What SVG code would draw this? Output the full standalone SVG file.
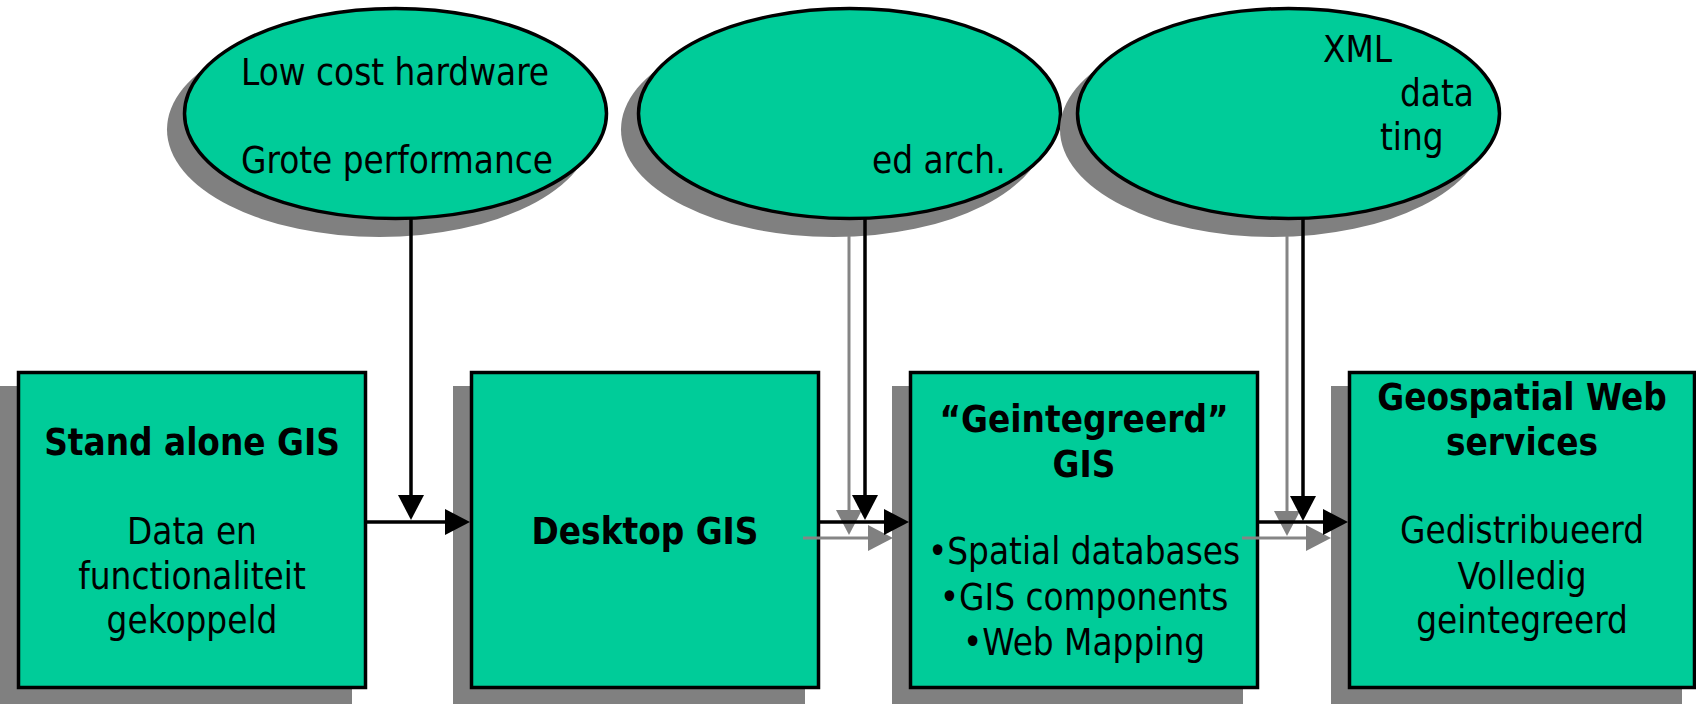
<svg xmlns="http://www.w3.org/2000/svg" width="1696" height="710" viewBox="0 0 1696 710">
<defs>
<style>
.sh{fill:#808080}
.nd{fill:#00CC99;stroke:#000;stroke-width:3.5}
.t{font-family:"DejaVu Sans Condensed","DejaVu Sans",sans-serif;font-stretch:condensed;font-size:36.5px;fill:#000}
.b{font-weight:bold}
.c{text-anchor:middle}
.k{fill:none;stroke:#000;stroke-width:3.5}
.g{fill:none;stroke:#858585;stroke-width:3}
</style>
<marker id="ak" markerUnits="userSpaceOnUse" markerWidth="26" markerHeight="26" viewBox="0 0 25 26" refX="21" refY="13" orient="auto"><path d="M0,0 L25,13 L0,26 Z" fill="#000"/></marker>
<marker id="ag" markerUnits="userSpaceOnUse" markerWidth="26" markerHeight="26" viewBox="0 0 25 26" refX="21" refY="13" orient="auto"><path d="M0,0 L25,13 L0,26 Z" fill="#808080"/></marker>
</defs>
<rect width="1696" height="710" fill="#fff"/>
<g id="e1">
<ellipse class="sh" cx="379.5" cy="129.5" rx="212.5" ry="107.5"/>
<ellipse class="nd" cx="395.5" cy="113.5" rx="211" ry="105"/>
<text class="t" x="241" y="85">Low cost hardware</text>
<text class="t" x="241" y="173">Grote performance</text>
</g>
<g id="e2">
<ellipse class="sh" cx="833.5" cy="129.5" rx="212.5" ry="107.5"/>
<ellipse class="nd" cx="849.5" cy="113.5" rx="211" ry="105"/>
<text class="t" x="872" y="173">ed arch.</text>
</g>
<g id="e3">
<ellipse class="sh" cx="1272.5" cy="129.5" rx="212.5" ry="107.5"/>
<ellipse class="nd" cx="1288.5" cy="113.5" rx="211" ry="105"/>
<text class="t" x="1323" y="62">XML</text>
<text class="t" x="1400" y="106">data</text>
<text class="t" x="1380" y="150">ting</text>
</g>
<g id="b1">
<rect class="sh" x="0" y="386" width="352" height="318"/>
<rect class="nd" x="18.5" y="372.5" width="347" height="315"/>
<text class="t b c" x="192" y="455">Stand alone GIS</text>
<text class="t c" x="192" y="544">Data en</text>
<text class="t c" x="192" y="589">functionaliteit</text>
<text class="t c" x="192" y="633">gekoppeld</text>
</g>
<g id="b2">
<rect class="sh" x="453" y="386" width="352" height="318"/>
<rect class="nd" x="471.5" y="372.5" width="347" height="315"/>
<text class="t b c" x="645" y="544">Desktop GIS</text>
</g>
<g id="b3">
<rect class="sh" x="892" y="386" width="351" height="318"/>
<rect class="nd" x="910.5" y="372.5" width="347" height="315"/>
<text class="t b c" x="1084" y="432">“Geintegreerd”</text>
<text class="t b c" x="1084" y="477">GIS</text>
<text class="t c" x="1084" y="564">•Spatial databases</text>
<text class="t c" x="1084" y="610">•GIS components</text>
<text class="t c" x="1084" y="655">•Web Mapping</text>
</g>
<g id="b4">
<rect class="sh" x="1331" y="386" width="351" height="318"/>
<rect class="nd" x="1349.5" y="372.5" width="345" height="315"/>
<text class="t b c" x="1522" y="410">Geospatial Web</text>
<text class="t b c" x="1522" y="455">services</text>
<text class="t c" x="1522" y="543">Gedistribueerd</text>
<text class="t c" x="1522" y="589">Volledig</text>
<text class="t c" x="1522" y="633">geintegreerd</text>
</g>
<g id="connectors">
<path class="k" d="M411,219 V516" marker-end="url(#ak)"/>
<path class="k" d="M367,522 H466" marker-end="url(#ak)"/>
<path class="g" d="M849,236 V531" marker-end="url(#ag)"/>
<path class="g" d="M803,538 H889" marker-end="url(#ag)"/>
<path class="k" d="M865,219 V516" marker-end="url(#ak)"/>
<path class="k" d="M820,522 H905" marker-end="url(#ak)"/>
<path class="g" d="M1287,236 V532" marker-end="url(#ag)"/>
<path class="g" d="M1242,538 H1327" marker-end="url(#ag)"/>
<path class="k" d="M1303,219 V517" marker-end="url(#ak)"/>
<path class="k" d="M1259,522 H1344" marker-end="url(#ak)"/>
</g>
</svg>
